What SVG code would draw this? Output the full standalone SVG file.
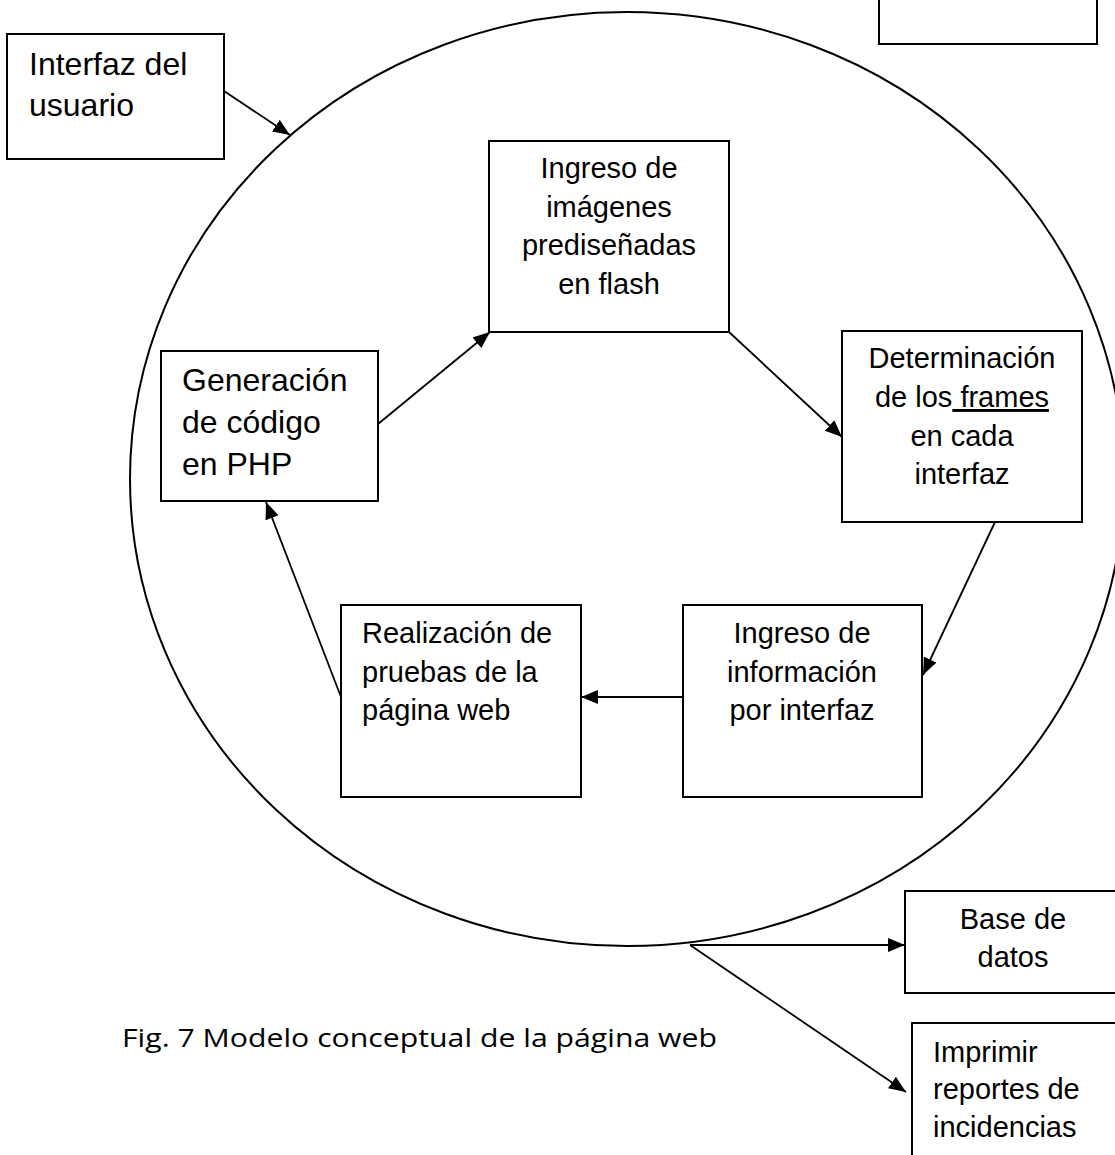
<svg xmlns="http://www.w3.org/2000/svg" width="1115" height="1155" viewBox="0 0 1115 1155">
<style>
.box{fill:#fff;stroke:#000;stroke-width:2}
.t{font-family:"Liberation Sans",Arial,sans-serif;font-size:29px;fill:#000}
.tl{font-family:"Liberation Sans",Arial,sans-serif;font-size:32px;fill:#000}
.c{text-anchor:middle}
.con{stroke:#000;stroke-width:1.8;fill:none;marker-end:url(#ah)}
.cap{font-family:"Open Sans","Noto Sans",sans-serif;font-size:25px;fill:#000}
</style>
<defs>
<marker id="ah" markerUnits="userSpaceOnUse" markerWidth="18" markerHeight="14" refX="17" refY="7" orient="auto">
<path d="M0,0 L17,7 L0,14 z" fill="#000"/>
</marker>
</defs>
<rect width="1115" height="1155" fill="#fff"/>
<g id="circle"><ellipse cx="627" cy="479" rx="497" ry="467" fill="none" stroke="#000" stroke-width="2"/></g>
<g id="topbox"><rect class="box" x="879" y="-5" width="218" height="49"/></g>
<g id="interfaz"><rect class="box" x="7" y="34" width="217" height="125"/>
<text class="tl" x="29" y="75">Interfaz del</text><text class="tl" x="29" y="116">usuario</text></g>
<g id="imagenes"><rect class="box" x="489" y="141" width="240" height="191"/>
<text class="t c" x="609" y="178">Ingreso de</text><text class="t c" x="609" y="217">imágenes</text><text class="t c" x="609" y="255">prediseñadas</text><text class="t c" x="609" y="294">en flash</text></g>
<g id="determinacion"><rect class="box" x="842" y="331" width="240" height="191"/>
<text class="t c" x="962" y="368">Determinación</text><text class="t c" x="962" y="407">de los<tspan text-decoration="underline"> frames</tspan></text><text class="t c" x="962" y="446">en cada</text><text class="t c" x="962" y="484">interfaz</text></g>
<g id="generacion"><rect class="box" x="161" y="351" width="217" height="150"/>
<text class="tl" x="182" y="391">Generación</text><text class="tl" x="182" y="433">de código</text><text class="tl" x="182" y="475">en PHP</text></g>
<g id="informacion"><rect class="box" x="683" y="605" width="239" height="192"/>
<text class="t c" x="802" y="643">Ingreso de</text><text class="t c" x="802" y="682">información</text><text class="t c" x="802" y="720">por interfaz</text></g>
<g id="pruebas"><rect class="box" x="341" y="605" width="240" height="192"/>
<text class="t" x="362" y="643">Realización de</text><text class="t" x="362" y="682">pruebas de la</text><text class="t" x="362" y="720">página web</text></g>
<g id="basedatos"><rect class="box" x="905" y="891" width="220" height="102"/>
<text class="t c" x="1013" y="929">Base de</text><text class="t c" x="1013" y="967">datos</text></g>
<g id="imprimir"><rect class="box" x="912" y="1023" width="220" height="145"/>
<text class="t" x="933" y="1062">Imprimir</text><text class="t" x="933" y="1099">reportes de</text><text class="t" x="933" y="1137">incidencias</text></g>
<g id="connectors">
<line class="con" x1="224" y1="91" x2="290" y2="135"/>
<line class="con" x1="378" y1="424" x2="490" y2="332"/>
<line class="con" x1="729" y1="332" x2="842" y2="437"/>
<line class="con" x1="995" y1="522" x2="923" y2="675"/>
<line class="con" x1="683" y1="697" x2="581" y2="697"/>
<line class="con" x1="341" y1="697" x2="266" y2="502"/>
<line class="con" x1="690" y1="945" x2="905" y2="945"/>
<line class="con" x1="690" y1="945" x2="906" y2="1092"/>
</g>
<text class="cap" x="122" y="1047" textLength="595" lengthAdjust="spacingAndGlyphs">Fig. 7 Modelo conceptual de la página web</text>
</svg>
